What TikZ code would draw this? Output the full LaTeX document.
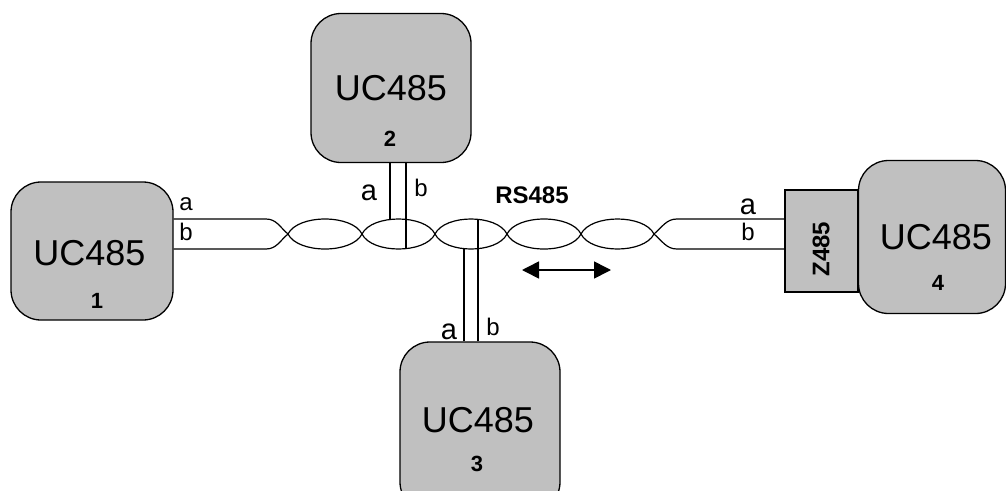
\documentclass[tikz,border=0pt]{standalone}
\usepackage{fontspec}
\setmainfont{Liberation Sans}
\usetikzlibrary{arrows.meta,positioning,calc}
\definecolor{boxgray}{RGB}{192,192,192}
\tikzset{
ucbox/.style={draw=black,fill=boxgray,line width=1.3pt,rounded corners=30pt,inner sep=0pt},
zbox/.style={draw=black,fill=boxgray,line width=1.3pt,inner sep=0pt,minimum width=73pt,minimum height=102pt},
uctext/.style={inner sep=0pt,font=\fontsize{36}{36}\selectfont},
ucnum/.style={inner sep=0pt,font=\fontsize{22}{22}\selectfont\bfseries},
wirelabel/.style={inner sep=0pt,font=\fontsize{24}{24}\selectfont},
biglabel/.style={inner sep=0pt,font=\fontsize{29}{29}\selectfont},
boldlabel/.style={inner sep=0pt,font=\fontsize{24}{24}\selectfont\bfseries},
wire/.style={line width=1.2pt}
}
\begin{document}
\begin{tikzpicture}[x=1pt,y=-1pt]
\useasboundingbox (0,0) rectangle (1006,490);
\coordinate (x1) at (288,234);
\coordinate (x2) at (362,234);
\coordinate (x3) at (435,234);
\coordinate (x4) at (507,234);
\coordinate (x5) at (581,234);
\coordinate (x6) at (654,234);
\coordinate (lt) at (266,219);
\coordinate (lb) at (266,249);
\coordinate (rt) at (677,219);
\coordinate (rb) at (677,249);
\coordinate (p2a) at (390,219);
\coordinate (p2b) at (406,249);
\coordinate (p3a) at (464,249);
\coordinate (p3b) at (478,219);
\node[ucbox,minimum width=162pt,minimum height=138pt] (uc1) at (92,251) {};
\node[ucbox,minimum width=160pt,minimum height=149pt] (uc2) at (391,88) {};
\node[ucbox,minimum width=160pt,minimum height=170pt] (uc3) at (480,427) {};
\node[ucbox,minimum width=147pt,minimum height=153pt] (uc4) at (932,237) {};
\node[zbox] (z4) at (821.5,241) {};
\node[uctext] (t1) at (89.5,253) {UC485};
\node[uctext] (t2) at (391,88) {UC485};
\node[uctext] (t3) at (478,420) {UC485};
\node[uctext] (t4) at (936,237) {UC485};
\node[ucnum] (n1) at (97,301) {1};
\node[ucnum] (n2) at (390,139) {2};
\node[ucnum] (n3) at (477,464) {3};
\node[ucnum] (n4) at (938,283) {4};
\node[boldlabel,rotate=90] (zt) at (821,249) {Z485};
\node[boldlabel] (rs) at (532,195) {RS485};
\node[wirelabel] (a1) at (186,204) {a};
\node[wirelabel] (b1) at (186,232) {b};
\node[biglabel] (a2) at (369,193) {a};
\node[wirelabel] (b2) at (421,188) {b};
\node[biglabel] (a3) at (449,332) {a};
\node[wirelabel] (b3) at (493,327) {b};
\node[biglabel] (a4) at (748,207) {a};
\node[wirelabel] (b4) at (748,232) {b};
\draw[wire] (lt -| uc1.east) -- (lt) to[out=0,in=140] (x1);
\draw[wire] (lb -| uc1.east) -- (lb) to[out=0,in=220] (x1);
\foreach \a/\b in {x1/x2,x2/x3,x3/x4,x4/x5,x5/x6}{
\draw[wire] (\a) .. controls ($(\a)+(10,-20)$) and ($(\b)+(-10,-20)$) .. (\b);
\draw[wire] (\a) .. controls ($(\a)+(10,20)$) and ($(\b)+(-10,20)$) .. (\b);
}
\draw[wire] (x6) to[out=40,in=180] (rt) -- (rt -| z4.west);
\draw[wire] (x6) to[out=-40,in=180] (rb) -- (rb -| z4.west);
\draw[wire] (p2a |- uc2.south) -- (p2a);
\draw[wire] (p2b |- uc2.south) -- (p2b);
\draw[wire] (p3a |- uc3.north) -- (p3a);
\draw[wire] (p3b |- uc3.north) -- (p3b);
\coordinate (dl) at (522,270);
\coordinate (dr) at (611,270);
\draw[line width=1.6pt,{Triangle[length=17pt,width=17pt]}-{Triangle[length=17pt,width=17pt]}] (dl) -- (dr);
\end{tikzpicture}
\end{document}
